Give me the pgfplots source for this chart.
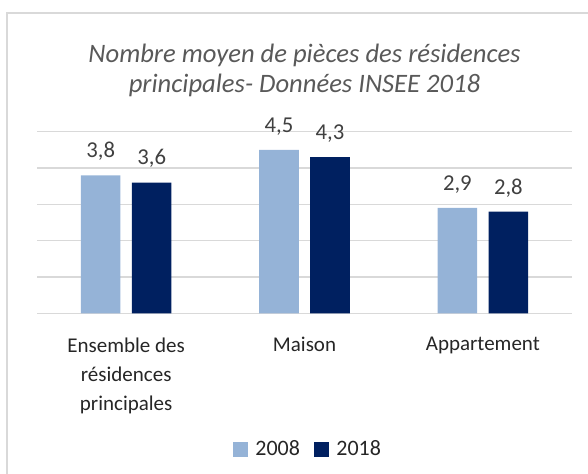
\documentclass[border=0pt]{standalone}
\usepackage{fontspec}
\setmainfont{Carlito}
\usepackage{pgfplots}
\pgfplotsset{compat=1.18}
\definecolor{light}{HTML}{95B3D7}
\definecolor{dark}{HTML}{002060}
\definecolor{gridc}{HTML}{D9D9D9}
\definecolor{txt}{HTML}{404040}
\definecolor{txtd}{HTML}{262626}
\definecolor{ttl}{HTML}{595959}
\begin{document}
\begin{tikzpicture}[x=1bp,y=1bp]
\useasboundingbox (0,0) rectangle (588,-474);
\draw[gridc, line width=1.5bp] (7,-474) -- (7,-13) -- (588,-13);
\node[anchor=base, text=ttl, font=\fontsize{26.6bp}{30bp}\selectfont\itshape, inner sep=0pt] at (304.5,-63) {Nombre moyen de pièces des résidences};
\node[anchor=base, text=ttl, font=\fontsize{26.6bp}{30bp}\selectfont\itshape, inner sep=0pt] at (304.5,-93) {principales- Données INSEE 2018};
\begin{axis}[
  at={(37bp,-313.3bp)}, anchor=south west,
  scale only axis, width=535bp, height=181.6bp,
  xmin=-0.5, xmax=2.5, ymin=0, ymax=5,
  xtick={0,1,2},
  xticklabels={{Ensemble des\\résidences\\principales},Maison,Appartement},
  ytick={0,1,2,3,4,5}, yticklabels={},
  ymajorgrids, major grid style={gridc, line width=1.2bp},
  axis line style={draw=none}, major tick length=0pt,
  xticklabel style={align=center, anchor=north, inner sep=0pt, yshift=-24bp,
    font=\fontsize{21bp}{29bp}\selectfont, text=txtd},
  ybar, bar width=0.222,
  nodes near coords,
  every node near coord/.append style={anchor=base, yshift=17.6bp, inner sep=0pt,
    font=\fontsize{22.7bp}{25bp}\selectfont, text=txt},
  /pgf/number format/use comma,
  /pgf/number format/fixed,
  /pgf/number format/fixed zerofill,
  /pgf/number format/precision=1,
  /pgf/number format/assume math mode=true,
  legend style={at={(0.366,-0.7456)}, anchor=west, draw=none, fill=none,
    inner sep=0pt, font=\fontsize{22bp}{25bp}\selectfont, text=txtd,
    /tikz/every odd column/.append style={column sep=6bp},
    /tikz/every even column/.append style={column sep=12bp}},
  legend columns=-1,
]
\addplot[fill=light, draw=none, bar shift=-0.143, forget plot] coordinates {(0,3.8) (1,4.5) (2,2.9)};
\addplot[fill=dark, draw=none, bar shift=0.143, forget plot] coordinates {(0,3.6) (1,4.3) (2,2.8)};
\addlegendimage{legend image code/.code={\fill[light] (0bp,-7bp) rectangle (14bp,7bp);}}
\addlegendentry{2008}
\addlegendimage{legend image code/.code={\fill[dark] (0bp,-7bp) rectangle (14bp,7bp);}}
\addlegendentry{2018}
\end{axis}
\end{tikzpicture}
\end{document}
